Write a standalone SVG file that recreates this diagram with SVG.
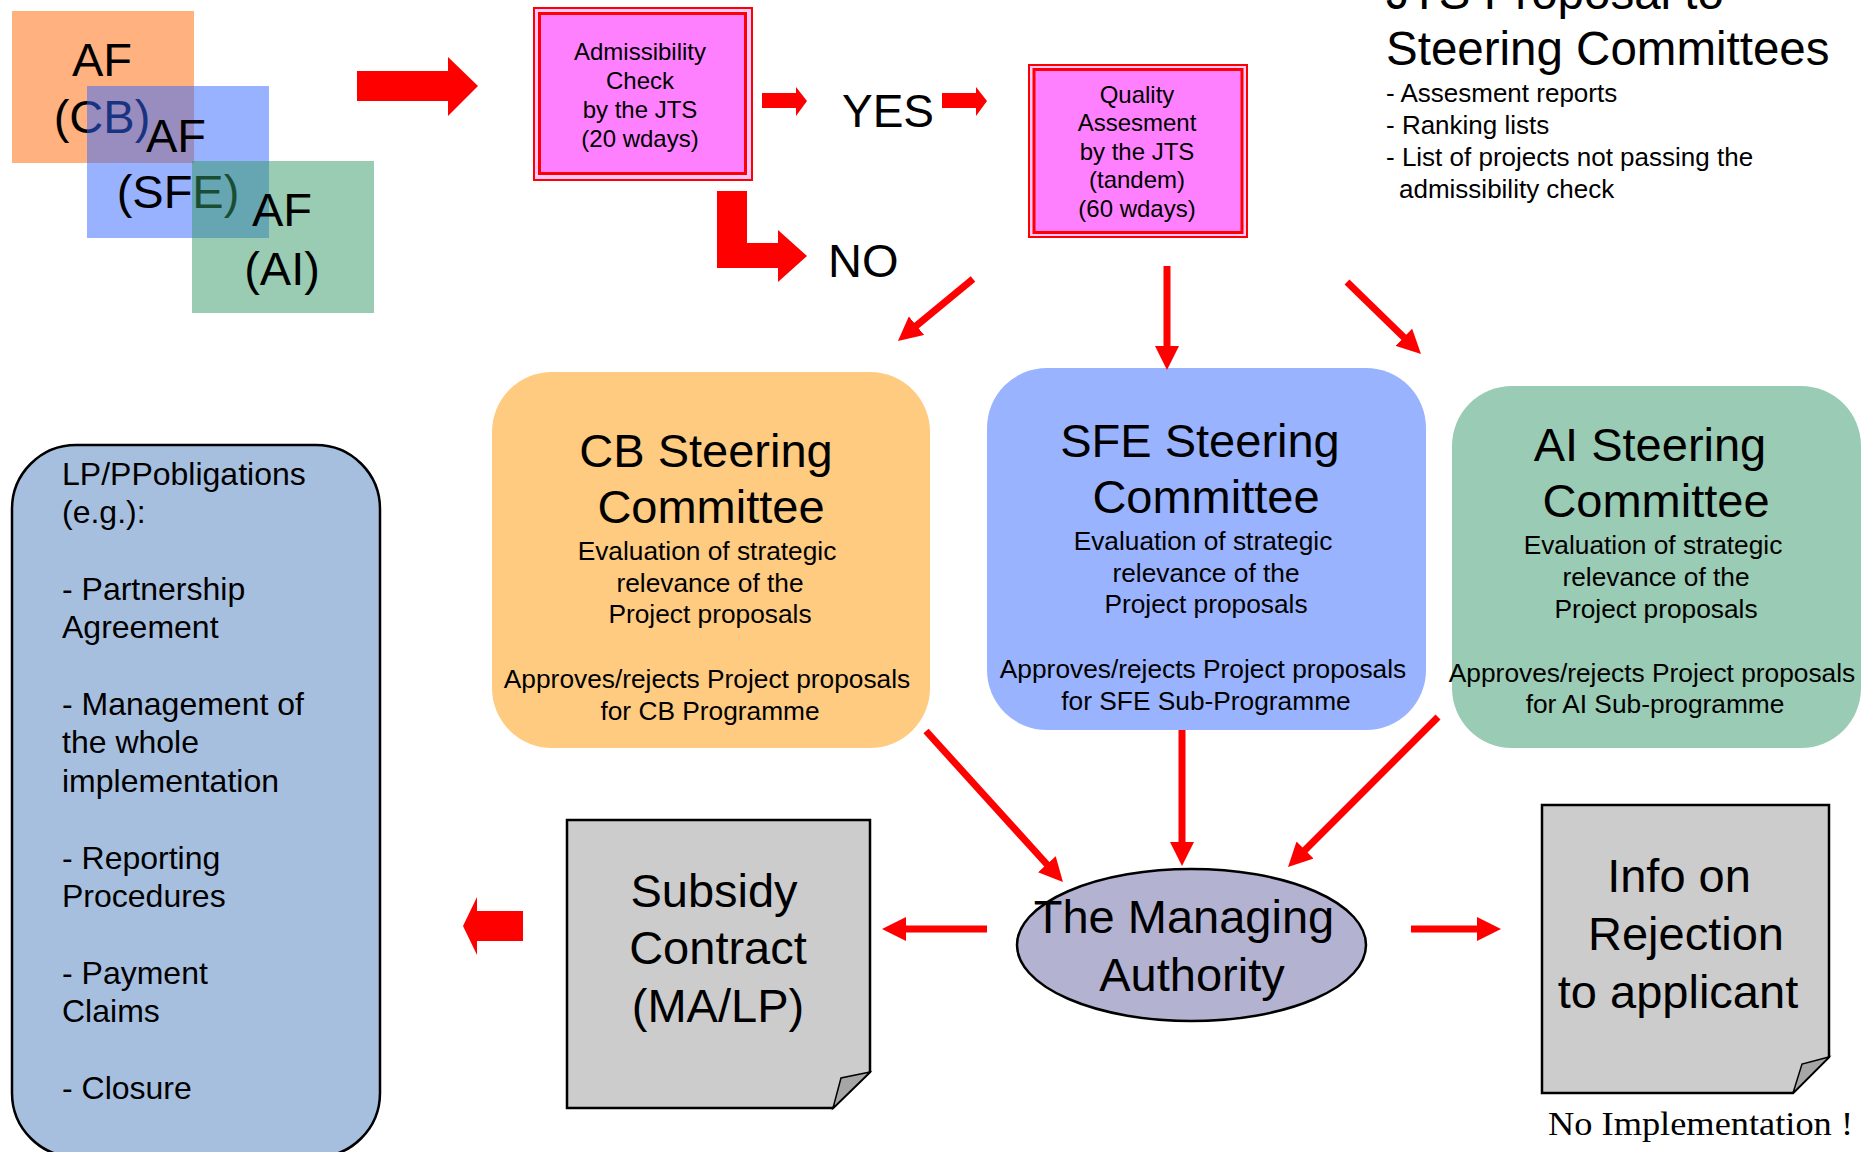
<svg xmlns="http://www.w3.org/2000/svg" width="1864" height="1152" viewBox="0 0 1864 1152">
<style>
text{font-family:"Liberation Sans",Arial,sans-serif;fill:#000}
.big{font-size:47px}
.mid{font-size:26.3px}
.sm{font-size:24px}
.lp{font-size:32px}
.bul{font-size:26px}
.c{text-anchor:middle}
.conn{stroke:#FF0000;stroke-width:7;fill:none;marker-end:url(#ah)}
.block{fill:#FF0000}
.doc{fill:#CCCCCC;stroke:#000;stroke-width:2.5}
.fold{fill:#A6A6A6;stroke:#000;stroke-width:1.5}
</style>
<defs>
<marker id="ah" markerUnits="userSpaceOnUse" markerWidth="24" markerHeight="24" refX="1" refY="12" orient="auto">
<path d="M0,0 L24,12 L0,24 Z" fill="#FF0000"/>
</marker>
</defs>
<rect width="1864" height="1152" fill="#FFFFFF"/>

<g id="af-cb">
<rect x="12" y="11" width="182" height="152" fill="#FF6600" fill-opacity="0.5"/>
<text class="big c" x="102" y="76">AF</text>
<text class="big c" x="102" y="133">(CB)</text>
</g>
<g id="af-sfe">
<rect x="87" y="86" width="182" height="152" fill="#3366FF" fill-opacity="0.5"/>
<text class="big c" x="176" y="152">AF</text>
<text class="big c" x="178" y="208">(SFE)</text>
</g>
<g id="af-ai">
<rect x="192" y="161" width="182" height="152" fill="#339966" fill-opacity="0.5"/>
<text class="big c" x="282" y="226">AF</text>
<text class="big c" x="282" y="285">(AI)</text>
</g>

<g id="admissibility">
<rect x="534" y="8" width="218" height="172" fill="#FFC8FF" stroke="#FF0000" stroke-width="2"/>
<rect x="539.5" y="13.5" width="206" height="160" fill="#FF80FF" stroke="#FF0000" stroke-width="3"/>
<text class="sm c" x="640" y="60">Admissibility</text>
<text class="sm c" x="640" y="89">Check</text>
<text class="sm c" x="640" y="118">by the JTS</text>
<text class="sm c" x="640" y="147">(20 wdays)</text>
</g>

<g id="yes-label"><text class="c" style="font-size:46px" x="888" y="127">YES</text></g>
<g id="no-label"><text style="font-size:47px" x="828" y="277">NO</text></g>

<g id="quality">
<rect x="1029" y="65" width="218" height="172" fill="#FFC8FF" stroke="#FF0000" stroke-width="2"/>
<rect x="1034" y="69.5" width="208" height="163" fill="#FF80FF" stroke="#FF0000" stroke-width="3"/>
<text class="sm c" x="1137" y="103">Quality</text>
<text class="sm c" x="1137" y="131">Assesment</text>
<text class="sm c" x="1137" y="160">by the JTS</text>
<text class="sm c" x="1137" y="188">(tandem)</text>
<text class="sm c" x="1137" y="217">(60 wdays)</text>
</g>

<g id="jts-proposal">
<text style="font-size:47.5px" x="1386" y="9">JTS Proposal to</text>
<text style="font-size:47.5px" x="1386" y="65">Steering Committees</text>
<text class="bul" x="1386" y="102">- Assesment reports</text>
<text class="bul" x="1386" y="134">- Ranking lists</text>
<text class="bul" x="1386" y="166">- List of projects not passing the</text>
<text class="bul" x="1399" y="198">admissibility check</text>
</g>

<g id="cb-sc">
<rect x="492" y="372" width="438" height="376" rx="60" ry="60" fill="#FECB80"/>
<text class="big c" x="706" y="467">CB Steering</text>
<text class="big c" x="711" y="523">Committee</text>
<text class="mid c" x="707" y="560">Evaluation of strategic</text>
<text class="mid c" x="710" y="592">relevance of the</text>
<text class="mid c" x="710" y="623">Project proposals</text>
<text class="mid c" x="707" y="688">Approves/rejects Project proposals</text>
<text class="mid c" x="710" y="720">for CB Programme</text>
</g>

<g id="sfe-sc">
<rect x="987" y="368" width="439" height="362" rx="60" ry="60" fill="#99B3FF"/>
<text class="big c" x="1200" y="457">SFE Steering</text>
<text class="big c" x="1206" y="513">Committee</text>
<text class="mid c" x="1203" y="550">Evaluation of strategic</text>
<text class="mid c" x="1206" y="582">relevance of the</text>
<text class="mid c" x="1206" y="613">Project proposals</text>
<text class="mid c" x="1203" y="678">Approves/rejects Project proposals</text>
<text class="mid c" x="1206" y="710">for SFE Sub-Programme</text>
</g>

<g id="ai-sc">
<rect x="1452" y="386" width="409" height="362" rx="60" ry="60" fill="#9ACBB4"/>
<text class="big c" x="1650" y="461">AI Steering</text>
<text class="big c" x="1656" y="517">Committee</text>
<text class="mid c" x="1653" y="554">Evaluation of strategic</text>
<text class="mid c" x="1656" y="586">relevance of the</text>
<text class="mid c" x="1656" y="618">Project proposals</text>
<text class="mid c" x="1652" y="682">Approves/rejects Project proposals</text>
<text class="mid c" x="1655" y="713">for AI Sub-programme</text>
</g>

<g id="lp-obligations">
<rect x="12" y="445" width="368" height="712" rx="64" ry="64" fill="#A7BFDF" stroke="#000" stroke-width="2.5"/>
<text class="lp" x="62" y="485">LP/PPobligations</text>
<text class="lp" x="62" y="523">(e.g.):</text>
<text class="lp" x="62" y="600">- Partnership</text>
<text class="lp" x="62" y="638">Agreement</text>
<text class="lp" x="62" y="715">- Management of</text>
<text class="lp" x="62" y="753">the whole</text>
<text class="lp" x="62" y="792">implementation</text>
<text class="lp" x="62" y="869">- Reporting</text>
<text class="lp" x="62" y="907">Procedures</text>
<text class="lp" x="62" y="984">- Payment</text>
<text class="lp" x="62" y="1022">Claims</text>
<text class="lp" x="62" y="1099">- Closure</text>
</g>

<g id="subsidy-contract">
<path class="doc" d="M567,820 H870 V1072 L833,1108 H567 Z"/>
<path class="fold" d="M833,1108 L841,1078 L870,1072 Z"/>
<text class="big c" x="714" y="907">Subsidy</text>
<text class="big c" x="718" y="964">Contract</text>
<text class="big c" x="718" y="1022">(MA/LP)</text>
</g>

<g id="managing-authority">
<ellipse cx="1191.5" cy="945" rx="174.5" ry="76" fill="#B3B3D1" stroke="#000" stroke-width="2.5"/>
<text class="big c" x="1184" y="933">The Managing</text>
<text class="big c" x="1192" y="991">Authority</text>
</g>

<g id="info-rejection">
<path class="doc" d="M1542,805 H1829 V1057 L1793,1093 H1542 Z"/>
<path class="fold" d="M1793,1093 L1802,1064 L1829,1057 Z"/>
<text class="big c" x="1679" y="892">Info on</text>
<text class="big c" x="1686" y="950">Rejection</text>
<text class="big c" x="1678" y="1008">to applicant</text>
</g>

<g id="no-implementation">
<text style="font-family:'Liberation Serif','Times New Roman',serif;font-size:33px" x="1548" y="1135" textLength="305" lengthAdjust="spacingAndGlyphs">No Implementation !</text>
</g>

<g id="connectors">
<polygon class="block" points="357,71 448,71 448,57 478,86 448,116 448,101 357,101"/>
<polygon class="block" points="762,93 796,93 796,87 807,101 796,116 796,108 762,108"/>
<polygon class="block" points="942,93 976,93 976,87 987,101 976,116 976,108 942,108"/>
<polygon class="block" points="717,191 747,191 747,243 778,243 778,230 807,256 778,282 778,268 717,268"/>
<polygon class="block" points="523,911 477,911 477,897 463,926 477,955 477,941 523,941"/>
<line class="conn" x1="973" y1="279" x2="915.7" y2="326.3"/>
<line class="conn" x1="1167" y1="266" x2="1167" y2="347"/>
<line class="conn" x1="1347" y1="282" x2="1404.5" y2="338"/>
<line class="conn" x1="926" y1="731" x2="1047.5" y2="865"/>
<line class="conn" x1="1182" y1="730" x2="1182" y2="843"/>
<line class="conn" x1="1438" y1="717" x2="1304.3" y2="850.7"/>
<line class="conn" x1="987" y1="929" x2="905" y2="929"/>
<line class="conn" x1="1411" y1="929" x2="1478" y2="929"/>
</g>
</svg>
